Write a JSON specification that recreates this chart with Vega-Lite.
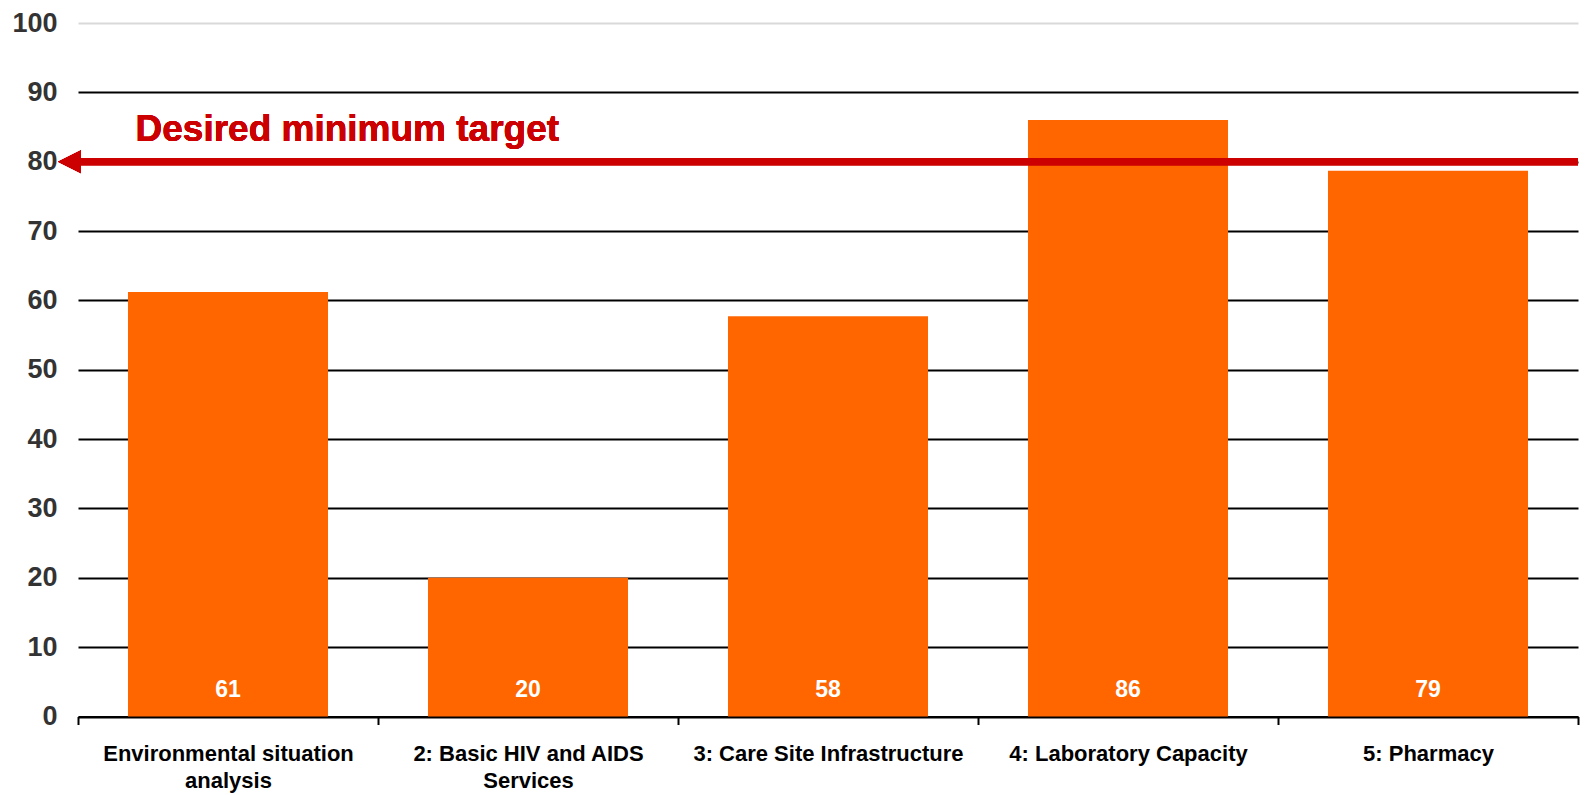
{
  "$schema": "https://vega.github.io/schema/vega-lite/v6.json",
  "width": 1500,
  "height": 693.5,
  "autosize": "none",
  "padding": {"left": 78, "top": 23, "right": 7, "bottom": 78.5},
  "background": "white",
  "config": {"view": {"stroke": null}, "font": "Liberation Sans"},
  "data": {
    "values": [
      {"category": "Environmental situation analysis", "value": 61.2},
      {"category": "2: Basic HIV and AIDS Services", "value": 20.0},
      {"category": "3: Care Site Infrastructure", "value": 57.7},
      {"category": "4: Laboratory Capacity", "value": 86.0},
      {"category": "5: Pharmacy", "value": 78.7}
    ]
  },
  "layer": [
    {
      "mark": {"type": "bar", "color": "#FF6600", "width": {"band": 0.6667}},
      "encoding": {
        "x": {
          "field": "category",
          "type": "nominal",
          "sort": null,
          "scale": {"paddingInner": 0, "paddingOuter": 0},
          "axis": {
            "title": null,
            "labelAngle": 0,
            "domainColor": "black",
            "domainWidth": 2,
            "tickColor": "black",
            "tickWidth": 2,
            "tickSize": 8,
            "tickBand": "extent",
            "labelFontSize": 22,
            "labelFontWeight": "bold",
            "labelColor": "black",
            "labelPadding": 19,
            "labelLineHeight": 26.5,
            "labelLimit": 500,
            "grid": false,
            "labelExpr": "datum.label == 'Environmental situation analysis' ? ['Environmental situation', 'analysis'] : datum.label == '2: Basic HIV and AIDS Services' ? ['2: Basic HIV and AIDS', 'Services'] : datum.label"
          }
        },
        "y": {
          "field": "value",
          "type": "quantitative",
          "scale": {"domain": [0, 100]},
          "axis": {
            "title": null,
            "values": [0, 10, 20, 30, 40, 50, 60, 70, 80, 90, 100],
            "domain": false,
            "ticks": false,
            "labelPadding": 21,
            "labelFontSize": 27,
            "labelFontWeight": "bold",
            "labelColor": "#333333",
            "grid": true,
            "gridWidth": 2,
            "gridOpacity": 1,
            "gridColor": {"condition": {"test": "datum.value === 100", "value": "#d9d9d9"}, "value": "black"}
          }
        }
      }
    },
    {
      "mark": {"type": "text", "color": "white", "fontSize": 23, "fontWeight": "bold", "baseline": "alphabetic", "dy": -19.7},
      "encoding": {
        "x": {"field": "category", "type": "nominal", "sort": null},
        "y": {"datum": 0},
        "text": {"field": "value", "type": "quantitative", "format": ".0f"}
      }
    },
    {
      "mark": {"type": "rule", "color": "#CC0000", "strokeWidth": 7, "x2Offset": 7},
      "encoding": {"y": {"datum": 80}}
    },
    {
      "mark": {"type": "point", "shape": "M-1,0L1,-1L1,1Z", "filled": true, "color": "#CC0000", "opacity": 1, "size": 529, "xOffset": -8.5},
      "encoding": {
        "x": {"datum": "Environmental situation analysis", "bandPosition": 0},
        "y": {"datum": 80}
      }
    },
    {
      "mark": {"type": "text", "text": "Desired minimum target", "color": "#CC0000", "fontSize": 37, "fontWeight": "bold", "align": "left", "baseline": "alphabetic", "dx": 57.5, "dy": -20.6},
      "encoding": {
        "x": {"datum": "Environmental situation analysis", "bandPosition": 0},
        "y": {"datum": 80}
      }
    }
  ]
}
